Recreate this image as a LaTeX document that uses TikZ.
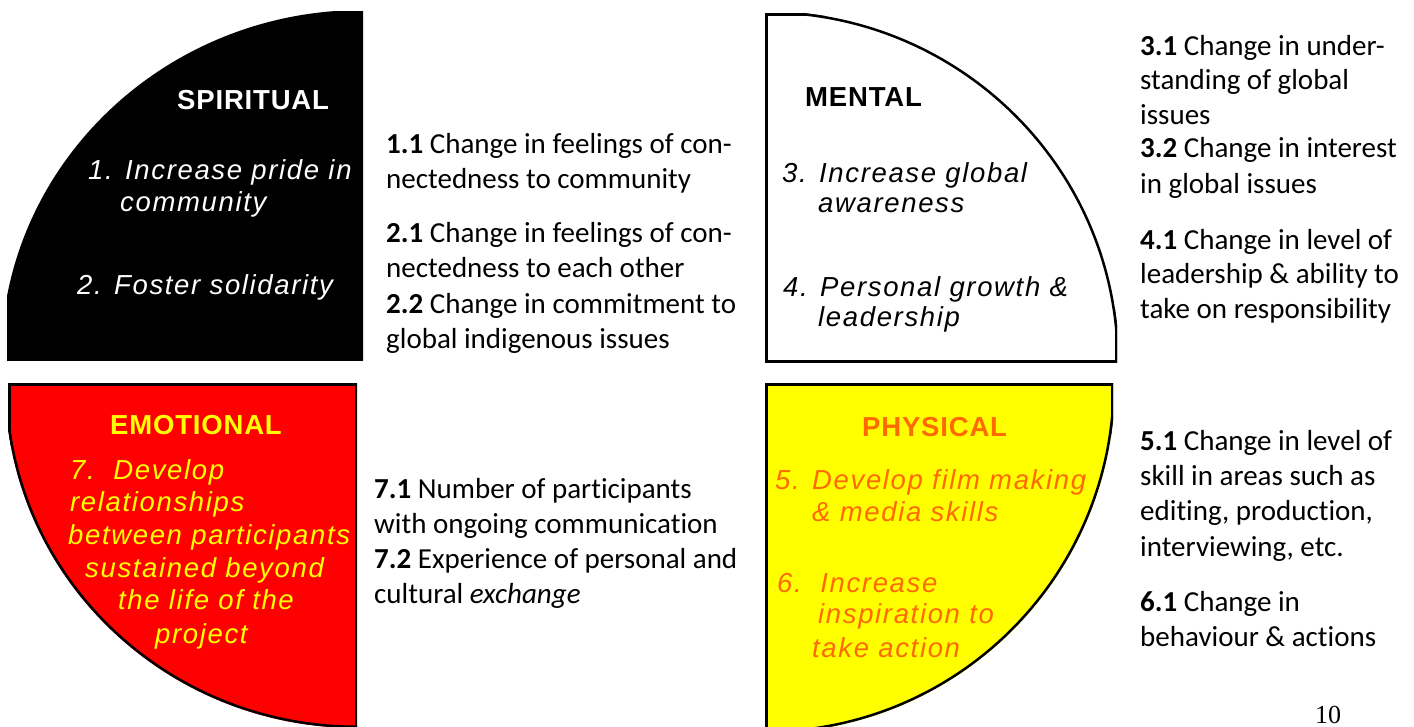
\documentclass[tikz,border=0pt]{standalone}
\usepackage{fontspec}
\setmainfont{Carlito}[Ligatures=NoCommon]
\newfontfamily\arialf[LetterSpace=6]{Liberation Sans}
\newfontfamily\arialt[LetterSpace=3]{Liberation Sans}
\newfontfamily\timesf{Liberation Serif}
\definecolor{qred}{RGB}{255,0,0}
\definecolor{qyellow}{RGB}{255,255,0}
\definecolor{qorange}{RGB}{255,106,0}
\tikzset{
  qtitle/.style={inner sep=0pt, anchor=base west, font=\arialt\bfseries\fontsize{27.5}{30}\selectfont},
  qitem/.style={inner sep=0pt, anchor=base west, font=\arialf\itshape\fontsize{27.5}{30}\selectfont},
  sidetxt/.style={inner sep=0pt, anchor=base west, font=\fontsize{29}{35}\selectfont},
  border/.style={line width=5pt, black}
}
\begin{document}
\begin{tikzpicture}[x=1pt,y=-1pt]
\useasboundingbox (0,0) rectangle (1414,726);
\clip (0,0) rectangle (1414,726);

% SPIRITUAL quadrant
\begin{scope}
  \clip (7,11) rectangle (363,360);
  \fill[black] (363,360) ellipse [x radius=362pt, y radius=350pt];
\end{scope}

% MENTAL quadrant
\begin{scope}
  \clip (765,13) rectangle (1117,362);
  \clip (765,362) ellipse [x radius=354pt, y radius=351pt];
  \fill[white] (765,13) rectangle (1117,362);
  \draw[border] (765,13) rectangle (1117,362);
  \draw[border] (765,362) ellipse [x radius=354pt, y radius=351pt];
\end{scope}

% EMOTIONAL quadrant
\begin{scope}
  \clip (8,383) rectangle (357,740);
  \clip (357,383) ellipse [x radius=352pt, y radius=345pt];
  \fill[qred] (8,383) rectangle (357,740);
  \draw[border] (8,383) rectangle (357,740);
  \draw[border] (357,383) ellipse [x radius=352pt, y radius=345pt];
\end{scope}

% PHYSICAL quadrant
\begin{scope}
  \clip (765,383) rectangle (1113,740);
  \clip (765,383) circle [radius=350pt];
  \fill[qyellow] (765,383) rectangle (1113,740);
  \draw[border] (765,383) rectangle (1113,740);
  \draw[border] (765,383) circle [radius=350pt];
\end{scope}

% texts in SPIRITUAL
\node[qtitle, text=white] (sp0) at (177,109) {SPIRITUAL};
\node[qitem, text=white] (sp1) at (88,179) {1. Increase pride in};
\node[qitem, text=white] (sp2) at (120,211) {community};
\node[qitem, text=white] (sp3) at (77,294) {2. Foster solidarity};

% texts in MENTAL
\node[qtitle, text=black] (me0) at (805,106) {MENTAL};
\node[qitem, text=black] (me1) at (782,182) {3. Increase global};
\node[qitem, text=black] (me2) at (818,212) {awareness};
\node[qitem, text=black] (me3) at (783,296) {4. Personal growth \&};
\node[qitem, text=black] (me4) at (818,326) {leadership};

% texts in EMOTIONAL
\node[qtitle, text=qyellow] (em0) at (110,434) {EMOTIONAL};
\node[qitem, text=qyellow] (em1) at (70,479) {7.\ \ Develop};
\node[qitem, text=qyellow] (em2) at (70,511) {relationships};
\node[qitem, text=qyellow] (em3) at (68,544) {between participants};
\node[qitem, text=qyellow] (em4) at (85,577) {sustained beyond};
\node[qitem, text=qyellow] (em5) at (118,609) {the life of the};
\node[qitem, text=qyellow] (em6) at (155,643) {project};

% texts in PHYSICAL
\node[qtitle, text=qorange] (ph0) at (862,436) {PHYSICAL};
\node[qitem, text=qorange] (ph1) at (775,489) {5. Develop film making};
\node[qitem, text=qorange] (ph2) at (812,521) {\& media skills};
\node[qitem, text=qorange] (ph3) at (777,592) {6.\ \ Increase};
\node[qitem, text=qorange] (ph4) at (818,623) {inspiration to};
\node[qitem, text=qorange] (ph5) at (812,657) {take action};

% middle column
\node[sidetxt] (a1) at (386,153) {\textbf{1.1} Change in feelings of con-};
\node[sidetxt] (a2) at (386,188) {nectedness to community};
\node[sidetxt] (a3) at (386,242) {\textbf{2.1} Change in feelings of con-};
\node[sidetxt] (a4) at (386,277) {nectedness to each other};
\node[sidetxt] (a5) at (386,313) {\textbf{2.2} Change in commitment to};
\node[sidetxt] (a6) at (386,348) {global indigenous issues};
\node[sidetxt] (b1) at (374,498) {\textbf{7.1} Number of participants};
\node[sidetxt] (b2) at (374,533) {with ongoing communication};
\node[sidetxt] (b3) at (374,568) {\textbf{7.2} Experience of personal and};
\node[sidetxt] (b4) at (374,603) {cultural \textit{exchange}};

% right column
\node[sidetxt] (c1) at (1140,55) {\textbf{3.1} Change in under-};
\node[sidetxt] (c2) at (1140,89) {standing of global};
\node[sidetxt] (c3) at (1140,124) {issues};
\node[sidetxt] (c4) at (1140,157) {\textbf{3.2} Change in interest};
\node[sidetxt] (c5) at (1140,193) {in global issues};
\node[sidetxt] (c6) at (1140,249) {\textbf{4.1} Change in level of};
\node[sidetxt] (c7) at (1140,283) {leadership \& ability to};
\node[sidetxt] (c8) at (1140,318) {take on responsibility};
\node[sidetxt] (d1) at (1140,450) {\textbf{5.1} Change in level of};
\node[sidetxt] (d2) at (1140,485) {skill in areas such as};
\node[sidetxt] (d3) at (1140,520) {editing, production,};
\node[sidetxt] (d4) at (1140,556) {interviewing, etc.};
\node[sidetxt] (d5) at (1140,611) {\textbf{6.1} Change in};
\node[sidetxt] (d6) at (1140,646) {behaviour \& actions};

% page number
\node[inner sep=0pt, anchor=base, font=\timesf\fontsize{26}{30}\selectfont] (pg) at (1328,723) {10};
\end{tikzpicture}
\end{document}
